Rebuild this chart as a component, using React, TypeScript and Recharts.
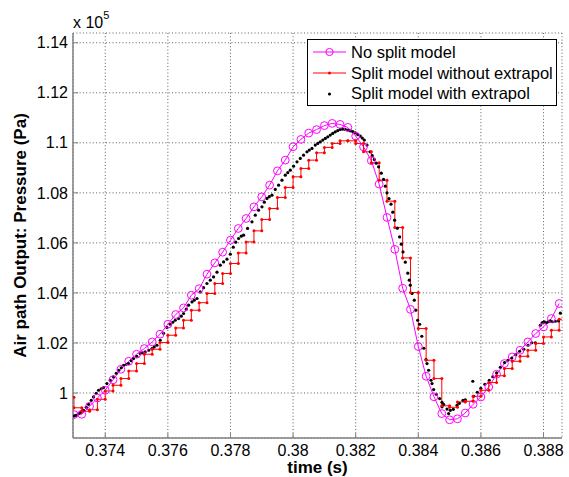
import React from 'react';
import { ComposedChart, Line, Scatter, XAxis, YAxis, CartesianGrid, Legend, Label } from 'recharts';

const FONT = '"Liberation Sans", Arial, Helvetica, sans-serif';

// sampling instants of the fixed-step models (s)
const sampleTimes = [
  0.37275, 0.373, 0.37325, 0.3735, 0.37375, 0.374, 0.37425, 0.3745, 0.37475, 0.375,
  0.37525, 0.3755, 0.37575, 0.376, 0.37625, 0.3765, 0.37675, 0.377, 0.37725, 0.3775,
  0.37775, 0.378, 0.37825, 0.3785, 0.37875, 0.379, 0.37925, 0.3795, 0.37975, 0.38,
  0.38025, 0.3805, 0.38075, 0.381, 0.38125, 0.3815, 0.38175, 0.382, 0.38225, 0.3825,
  0.38275, 0.383, 0.38325, 0.3835, 0.38375, 0.384, 0.38425, 0.3845, 0.38475, 0.385,
  0.38525, 0.3855, 0.38575, 0.386, 0.38625, 0.3865, 0.38675, 0.387, 0.38725, 0.3875,
  0.38775, 0.388, 0.38825, 0.3885, 0.38875,
];

// No split model, one value per sampleTimes[1..63] (x 10^5 Pa)
const noSplitValues = [
  0.99136, 0.99148, 0.99468, 0.998, 1.00108, 1.00528, 1.00948, 1.01268, 1.01548, 1.01776,
  1.0204, 1.02348, 1.02748, 1.03136, 1.034, 1.03908, 1.04168, 1.04748, 1.052, 1.05628,
  1.06108, 1.06576, 1.06976, 1.0744, 1.0784, 1.08308, 1.0888, 1.09308, 1.0984, 1.10136,
  1.10388, 1.10528, 1.10688, 1.10776, 1.10736, 1.10616, 1.10268, 1.0984, 1.09288, 1.08348,
  1.07016, 1.0574, 1.04188, 1.0334, 1.01856, 1.00668, 0.99848, 0.99176, 0.98928, 0.98968,
  0.992, 0.99548, 0.9984, 1.0024, 1.00748, 1.01176, 1.0144, 1.01708, 1.0204, 1.02376,
  1.0264, 1.02976, 1.03576,
];

// Split model without extrapol: value held from sampleTimes[k] to sampleTimes[k+1]
const heldValues = [
  0.99828, 0.99408, 0.99268, 0.99328, 0.99748, 1.0008, 1.00308, 1.00576, 1.0088, 1.01176,
  1.01548, 1.01748, 1.02016, 1.02308, 1.026, 1.02908, 1.03308, 1.03608, 1.03976, 1.04376,
  1.04776, 1.05176, 1.056, 1.0604, 1.0648, 1.06936, 1.07376, 1.07816, 1.08216, 1.0864,
  1.08976, 1.09308, 1.096, 1.09816, 1.09976, 1.1008, 1.1008, 1.09976, 1.0964, 1.092,
  1.08508, 1.07668, 1.06616, 1.054, 1.04016, 1.02576, 1.01308, 1.00576, 0.99488, 0.99428,
  0.9964, 0.99668, 0.99868, 1.00108, 1.00416, 1.00688, 1.00976, 1.01268, 1.01468, 1.01708,
  1.01976, 1.0224, 1.02508, 1.02948,
];

// Split model with extrapol (s, x 10^5 Pa)
const extrapolTimes = [
  0.37301, 0.373074, 0.373147, 0.373217, 0.373307, 0.373393, 0.373466, 0.373553, 0.373626, 0.373712,
  0.373786, 0.373872, 0.373946, 0.374054, 0.37416, 0.374265, 0.374351, 0.374425, 0.374511, 0.374585,
  0.374671, 0.374744, 0.374831, 0.374904, 0.375006, 0.375118, 0.375198, 0.375278, 0.37539, 0.375492,
  0.375565, 0.375652, 0.375757, 0.375863, 0.375971, 0.376077, 0.376157, 0.376236, 0.376342, 0.376428,
  0.376502, 0.376588, 0.376661, 0.37677, 0.376843, 0.37693, 0.377035, 0.377141, 0.377249, 0.377355,
  0.37746, 0.377569, 0.377674, 0.37778, 0.377888, 0.377994, 0.378089, 0.378169, 0.378259, 0.378345,
  0.378419, 0.378546, 0.378687, 0.378792, 0.378898, 0.379006, 0.37908, 0.379166, 0.37924, 0.379326,
  0.379431, 0.379537, 0.379645, 0.379751, 0.379831, 0.379911, 0.380016, 0.380125, 0.38023, 0.380335,
  0.380444, 0.380518, 0.380604, 0.380709, 0.380789, 0.380869, 0.380949, 0.381029, 0.381109, 0.381188,
  0.381268, 0.381348, 0.381428, 0.381508, 0.381588, 0.381668, 0.381748, 0.381827, 0.381907, 0.381987,
  0.382067, 0.382147, 0.382211, 0.382275, 0.382361, 0.382466, 0.38253, 0.382594, 0.382658, 0.382732,
  0.382818, 0.382891, 0.382946, 0.383, 0.383064, 0.383128, 0.383185, 0.383243, 0.383329, 0.383403,
  0.383457, 0.383511, 0.383585, 0.383665, 0.383712, 0.383744, 0.383799, 0.383872, 0.38392, 0.383978,
  0.384042, 0.384112, 0.384176, 0.384246, 0.384278, 0.384329, 0.384406, 0.384438, 0.384489, 0.384575,
  0.384681, 0.384757, 0.384757, 0.384808, 0.384917, 0.384968, 0.385022, 0.385118, 0.385236, 0.38531,
  0.385428, 0.385502, 0.385741, 0.385767, 0.385885, 0.385997, 0.386125, 0.386268, 0.38638, 0.386502,
  0.38662, 0.386754, 0.386859, 0.386987, 0.387115, 0.387236, 0.387371, 0.387505, 0.387626, 0.387738,
  0.387898, 0.387952, 0.387994, 0.388026, 0.388089, 0.388153, 0.388217, 0.388281, 0.388377, 0.388482,
  0.388537,
];
const extrapolValues = [
  0.9908, 0.99108, 0.99176, 0.99228, 0.99308, 0.99428, 0.99548, 0.99708, 0.9984, 0.99988,
  1.00108, 1.00168, 1.00216, 1.00376, 1.00508, 1.0064, 1.00788, 1.00908, 1.01008, 1.01108,
  1.01148, 1.01176, 1.01288, 1.01376, 1.01468, 1.01576, 1.01608, 1.0164, 1.01708, 1.01776,
  1.0184, 1.01908, 1.02108, 1.02388, 1.02616, 1.02748, 1.02828, 1.02908, 1.02976, 1.03068,
  1.03176, 1.03348, 1.03508, 1.0364, 1.03708, 1.03776, 1.0404, 1.04208, 1.04376, 1.04508,
  1.0464, 1.04828, 1.05108, 1.0524, 1.05348, 1.05548, 1.05828, 1.06028, 1.06176, 1.06268,
  1.06308, 1.06576, 1.0684, 1.07108, 1.07308, 1.0744, 1.07628, 1.07776, 1.07848, 1.07908,
  1.08136, 1.08308, 1.08508, 1.08708, 1.08808, 1.08908, 1.09068, 1.0924, 1.09376, 1.09508,
  1.0964, 1.09708, 1.09776, 1.09908, 1.09976, 1.1004, 1.10108, 1.10176, 1.1024, 1.10308,
  1.10376, 1.1044, 1.10488, 1.10536, 1.10548, 1.10536, 1.10508, 1.1048, 1.10448, 1.104,
  1.10328, 1.10268, 1.10188, 1.10108, 1.09908, 1.0964, 1.09488, 1.09336, 1.09188, 1.0904,
  1.08788, 1.08536, 1.08268, 1.08, 1.07768, 1.07548, 1.07228, 1.06908, 1.06588, 1.0624,
  1.05948, 1.0564, 1.05228, 1.04788, 1.04508, 1.04308, 1.03976, 1.03708, 1.03308, 1.02908,
  1.02748, 1.02268, 1.01788, 1.01336, 1.01176, 1.00908, 1.00508, 1.00376, 1.00136, 0.99948,
  0.99776, 0.99628, 0.99448, 0.99548, 0.99356, 0.99176, 0.99308, 0.99348, 0.99508, 0.99588,
  0.99708, 0.99728, 1.00468, 0.99868, 1.00028, 1.00188, 1.00348, 1.00508, 1.00648, 1.008,
  1.01028, 1.01216, 1.01308, 1.01396, 1.01528, 1.01668, 1.01748, 1.01908, 1.02008, 1.02008,
  1.02708, 1.028, 1.02828, 1.0284, 1.02808, 1.02848, 1.0288, 1.02848, 1.02868, 1.0288,
  1.03188,
];

const xTicks = [0.374, 0.376, 0.378, 0.38, 0.382, 0.384, 0.386, 0.388];
const yTicks = [1, 1.02, 1.04, 1.06, 1.08, 1.1, 1.12, 1.14];
const seriesNames = ['No split model', 'Split model without extrapol', 'Split model with extrapol'];

const noSplitData = noSplitValues.map((v, i) => ({ t: sampleTimes[i + 1], v }));
const heldData = heldValues.flatMap((v, k) => [
  { t: sampleTimes[k], v },
  { t: sampleTimes[k + 1], v },
]);
const extrapolData = extrapolTimes.map((t, i) => ({ t, v: extrapolValues[i] }));

const LegendBox = () => (
  <div
    style={{
      border: '1px solid #000',
      background: '#fff',
      width: 250,
      height: 67,
      boxSizing: 'border-box',
      paddingTop: 2,
      fontFamily: FONT,
      fontSize: 16.5,
      color: '#000',
    }}
  >
    {seriesNames.map((name, i) => (
      <div key={name} style={{ display: 'flex', alignItems: 'center', height: 20.7, whiteSpace: 'nowrap' }}>
        <svg width={33} height={12} style={{ marginLeft: 5, marginRight: 5 }}>
          {i < 2 && <line x1={0} y1={6} x2={33} y2={6} stroke={i === 0 ? '#ff00ff' : '#ff0000'} strokeWidth={1} />}
          {i === 0 && <circle cx={16.5} cy={6} r={3.6} fill="none" stroke="#ff00ff" />}
          {i === 1 && <circle cx={16.5} cy={6} r={1.5} fill="#ff0000" />}
          {i === 2 && <circle cx={16.5} cy={6} r={1.6} fill="#000" />}
        </svg>
        <span>{name}</span>
      </div>
    ))}
  </div>
);

const BlackDot = (props: any) => <circle cx={props.cx} cy={props.cy} r={1.6} fill="#000" />;

export default function App() {
  return (
    <div style={{ position: 'absolute', left: 0, top: 0, background: '#fff' }}>
      <ComposedChart width={569} height={477} margin={{ top: 33, right: 7, bottom: 0, left: 10 }}>
        <CartesianGrid stroke="#333" strokeDasharray="1 2.3" strokeWidth={0.8} />
        <XAxis
          type="number"
          dataKey="t"
          domain={[0.37297, 0.38859]}
          allowDataOverflow
          ticks={xTicks}
          tickFormatter={(v: number) => String(+v.toFixed(3))}
          height={39}
          tickSize={-5}
          tickMargin={12}
          tickLine={{ stroke: '#808080', strokeWidth: 1 }}
          axisLine={{ stroke: '#808080', strokeWidth: 1.5 }}
          tick={{ fill: '#000', fontSize: 16, fontFamily: FONT }}
        >
          <Label
            content={({ viewBox }: any) => (
              <text
                x={viewBox.x + viewBox.width / 2}
                y={viewBox.y + 35}
                textAnchor="middle"
                fontFamily={FONT}
                fontSize={17}
                fontWeight="bold"
                fill="#000"
              >
                time (s)
              </text>
            )}
          />
        </XAxis>
        <YAxis
          type="number"
          domain={[0.982, 1.1439]}
          allowDataOverflow
          ticks={yTicks}
          tickFormatter={(v: number) => String(+v.toFixed(2))}
          width={63}
          tickSize={-5}
          tickMargin={10}
          tickLine={{ stroke: '#808080', strokeWidth: 1 }}
          axisLine={{ stroke: '#808080', strokeWidth: 1.5 }}
          tick={{ fill: '#000', fontSize: 16, fontFamily: FONT }}
        >
          <Label
            content={({ viewBox }: any) => (
              <g fontFamily={FONT} fill="#000">
                <text
                  transform={`translate(${viewBox.x + 16}, ${viewBox.y + viewBox.height / 2}) rotate(-90)`}
                  textAnchor="middle"
                  fontSize={17}
                  fontWeight="bold"
                >
                  Air path Output: Pressure (Pa)
                </text>
                <text x={viewBox.x + viewBox.width} y={viewBox.y - 5} fontSize={16}>
                  x 10
                  <tspan fontSize={11} dy={-9}>5</tspan>
                </text>
              </g>
            )}
          />
        </YAxis>
        <Legend
          layout="vertical"
          align="center"
          verticalAlign="middle"
          content={() => <LegendBox />}
          wrapperStyle={{ left: 307, top: 39, width: 250, height: 67 }}
        />
        <Line
          data={noSplitData}
          dataKey="v"
          name={seriesNames[0]}
          type="linear"
          stroke="#ff00ff"
          strokeWidth={1}
          dot={{ r: 3.9, fill: 'none', stroke: '#ff00ff', strokeWidth: 1 }}
          isAnimationActive={false}
        />
        <Line
          data={heldData}
          dataKey="v"
          name={seriesNames[1]}
          type="linear"
          stroke="#ff0000"
          strokeWidth={1}
          dot={{ r: 1.5, fill: '#ff0000', stroke: 'none' }}
          isAnimationActive={false}
        />
        <Scatter
          data={extrapolData}
          dataKey="v"
          name={seriesNames[2]}
          fill="#000"
          shape={BlackDot}
          isAnimationActive={false}
        />
      </ComposedChart>
    </div>
  );
}
